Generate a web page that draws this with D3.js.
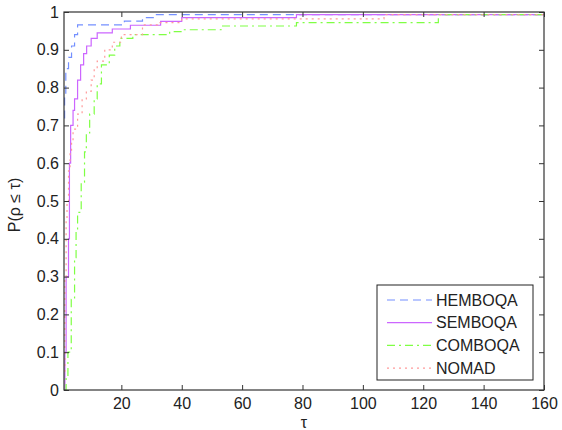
<!DOCTYPE html>
<html>
<head>
<meta charset="utf-8">
<script src="https://cdn.jsdelivr.net/npm/d3@7"></script>
<style>
  body { margin: 0; background: #fff; }
  svg { font-family: "Liberation Sans", Arial, sans-serif; }
</style>
</head>
<body>
<svg id="chart"></svg>
<script>
// performance profile data (tau, fraction of problems)
const hemboqa = [[1,0.72],[1.2,0.78],[1.6,0.85],[2.5,0.88],[3.5,0.91],[4.5,0.94],[5.5,0.966],[21,0.976],[27,0.985],[31,0.993],[160,0.993]];
const semboqa = [[1,0.0],[1.3,0.1],[1.7,0.3],[2.5,0.4],[2.8,0.6],[3.2,0.7],[4,0.74],[4.5,0.77],[5.5,0.82],[6.5,0.86],[7.5,0.89],[8.5,0.91],[10,0.93],[12,0.945],[17,0.955],[23,0.965],[33,0.975],[40,0.985],[78,0.993],[160,0.993]];
const comboqa = [[1,0.0],[1.7,0.03],[2.3,0.1],[3.4,0.24],[4.5,0.35],[5,0.42],[5.5,0.47],[6.7,0.55],[7.8,0.63],[8.4,0.68],[9.5,0.73],[11,0.77],[12,0.81],[13.4,0.86],[16,0.886],[17.8,0.91],[19.5,0.93],[23.8,0.94],[36,0.948],[40,0.953],[53,0.963],[78,0.972],[125,0.993],[160,0.993]];
const nomad = [[1,0.05],[1.3,0.3],[1.7,0.45],[2,0.5],[2.5,0.58],[3,0.63],[3.5,0.66],[4,0.69],[5.5,0.73],[7,0.77],[8.4,0.79],[10,0.82],[11,0.85],[12,0.87],[14.5,0.9],[17,0.92],[20,0.94],[27,0.966],[32,0.972],[40,0.982],[107,0.993],[160,0.993]];

const names = ["HEMBOQA", "SEMBOQA", "COMBOQA", "NOMAD"];
const xTicks = [20, 40, 60, 80, 100, 120, 140, 160];
const yTicks = [0, 0.1, 0.2, 0.3, 0.4, 0.5, 0.6, 0.7, 0.8, 0.9, 1];

const width = 562;
const height = 430;
const margin = { top: 12, right: 18, bottom: 40, left: 64 };
const fontSize = 16;

const svg = d3.select("#chart").attr("width", width).attr("height", height);

const x = d3.scaleLinear().domain([1, 160]).range([margin.left, width - margin.right]);
const y = d3.scaleLinear().domain([0, 1]).range([height - margin.bottom, margin.top]);

const series = [
  { name: names[0], data: hemboqa, color: "#7490ff", dash: "8,5" },
  { name: names[1], data: semboqa, color: "#cc66ff", dash: null },
  { name: names[2], data: comboqa, color: "#7fff44", dash: "8,4,2,4" },
  { name: names[3], data: nomad, color: "#ff9a9a", dash: "2,4" },
];

svg.append("clipPath").attr("id", "clip")
  .append("rect")
  .attr("x", margin.left).attr("y", margin.top)
  .attr("width", x.range()[1] - margin.left)
  .attr("height", y.range()[0] - margin.top);

const line = d3.line()
  .x((d) => x(d[0]))
  .y((d) => y(d[1]))
  .curve(d3.curveStepAfter);

const plot = svg.append("g").attr("clip-path", "url(#clip)");
series.forEach((s) => {
  plot.append("path")
    .datum(s.data)
    .attr("d", line)
    .attr("fill", "none")
    .attr("stroke", s.color)
    .attr("stroke-width", 1.2)
    .attr("stroke-dasharray", s.dash);
});

// axes with inward ticks (box style)
const x0 = x.range()[0], x1 = x.range()[1];
const y0 = y.range()[0], y1 = y.range()[1];

svg.append("g")
  .attr("transform", `translate(0,${y0})`)
  .call(d3.axisBottom(x).tickValues(xTicks).tickSize(-5).tickPadding(8).tickSizeOuter(0))
  .call((g) => g.select(".domain").remove());
svg.append("g")
  .attr("transform", `translate(0,${y1})`)
  .call(d3.axisTop(x).tickValues(xTicks).tickSize(-5).tickFormat("").tickSizeOuter(0))
  .call((g) => g.select(".domain").remove());
svg.append("g")
  .attr("transform", `translate(${x0},0)`)
  .call(d3.axisLeft(y).tickValues(yTicks).tickSize(-5).tickPadding(5).tickFormat(d3.format("~g")).tickSizeOuter(0))
  .call((g) => g.select(".domain").remove());
svg.append("g")
  .attr("transform", `translate(${x1},0)`)
  .call(d3.axisRight(y).tickValues(yTicks).tickSize(-5).tickFormat("").tickSizeOuter(0))
  .call((g) => g.select(".domain").remove());

svg.selectAll(".tick text").attr("font-size", fontSize).attr("fill", "#222").attr("font-family", "Liberation Sans, Arial, sans-serif");
svg.selectAll(".tick line").attr("stroke", "#333");

svg.append("rect")
  .attr("x", x0).attr("y", y1)
  .attr("width", x1 - x0).attr("height", y0 - y1)
  .attr("fill", "none").attr("stroke", "#333").attr("stroke-width", 1.2);

// axis labels
svg.append("text")
  .attr("x", (x0 + x1) / 2).attr("y", 428)
  .attr("text-anchor", "middle").attr("font-size", fontSize).attr("fill", "#222")
  .text("τ");
svg.append("text")
  .attr("transform", `translate(20,${(y0 + y1) / 2 + 4}) rotate(-90)`)
  .attr("text-anchor", "middle").attr("font-size", fontSize).attr("fill", "#222")
  .text("P(ρ ≤ τ)");

// legend
const legend = svg.append("g");
legend.append("rect")
  .attr("x", 377).attr("y", 285).attr("width", 156).attr("height", 95)
  .attr("fill", "#fff").attr("stroke", "#222").attr("stroke-width", 1);
series.forEach((s, i) => {
  const ly = 300 + i * 22.7;
  legend.append("line")
    .attr("x1", 387).attr("x2", 432).attr("y1", ly).attr("y2", ly)
    .attr("stroke", s.color).attr("stroke-width", 1.2)
    .attr("stroke-dasharray", s.dash);
  legend.append("text")
    .attr("x", 436).attr("y", ly).attr("dy", "0.36em")
    .attr("font-size", fontSize).attr("fill", "#222")
    .text(s.name);
});
</script>
</body>
</html>
